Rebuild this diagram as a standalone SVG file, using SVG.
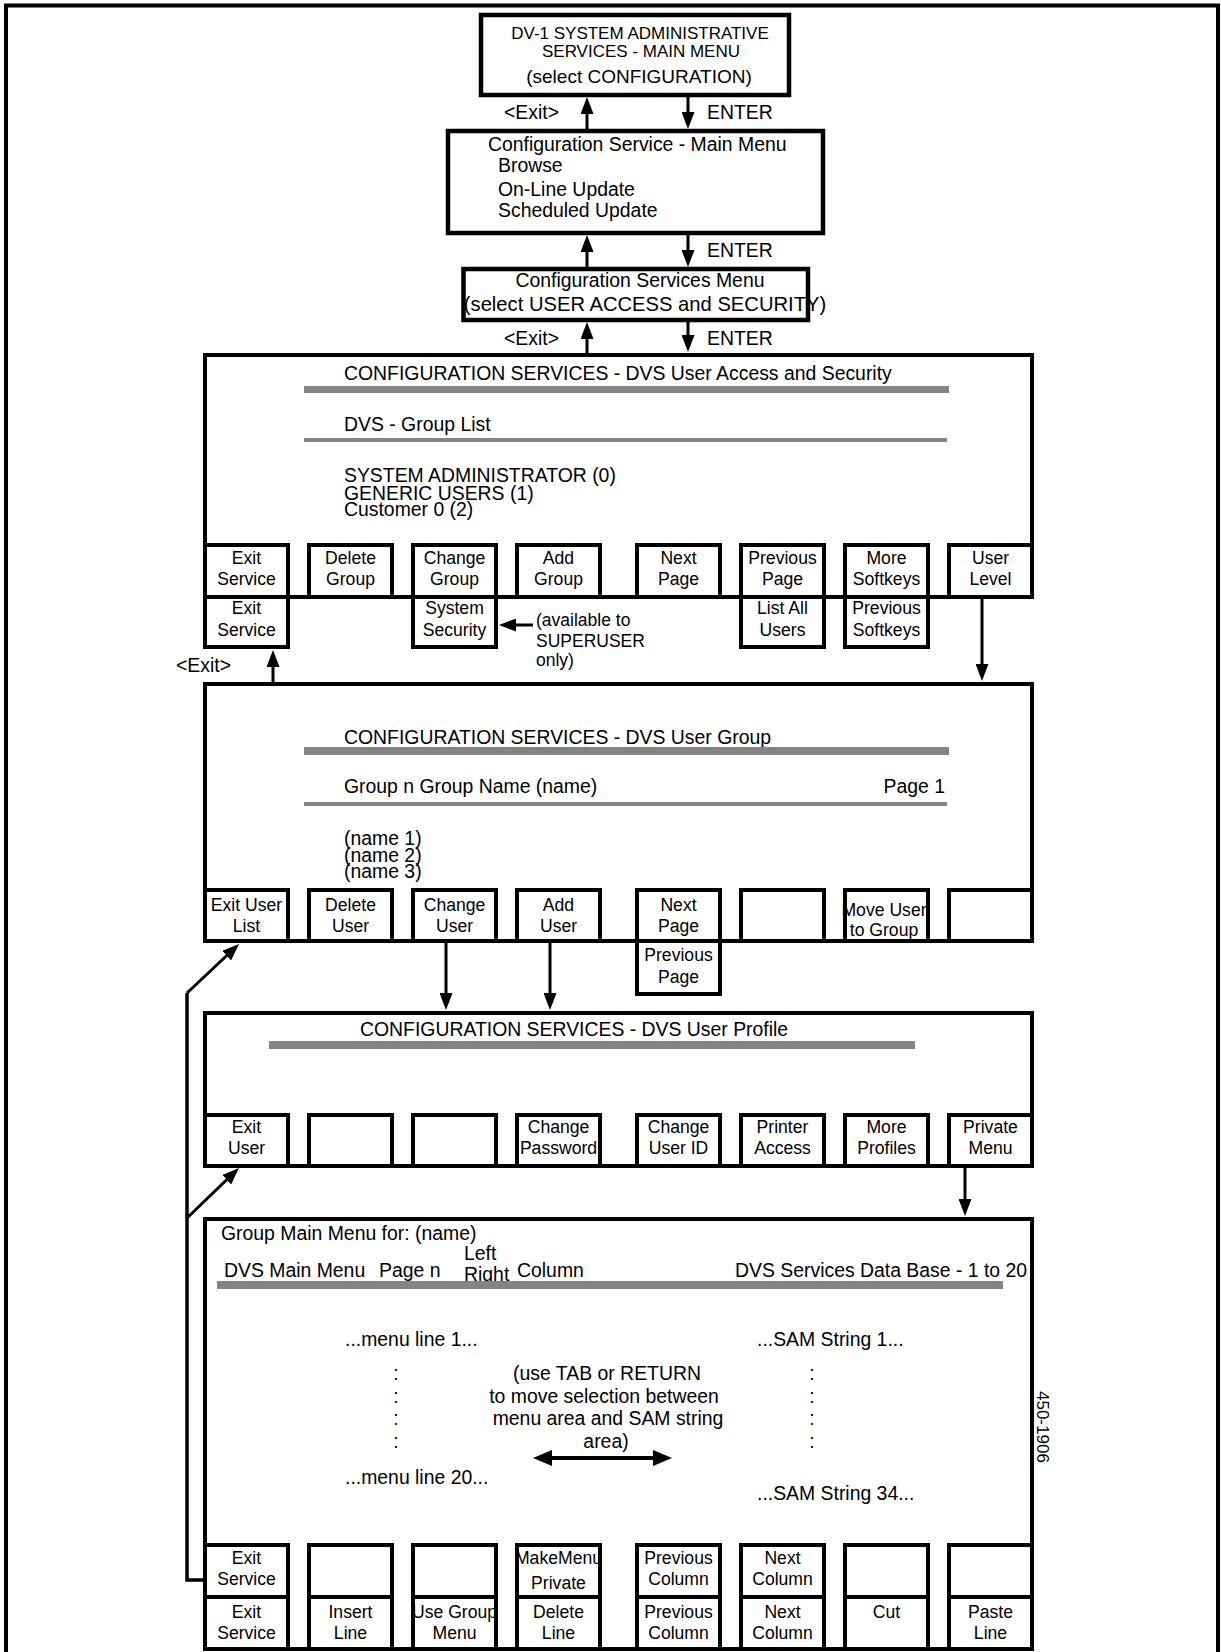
<svg xmlns="http://www.w3.org/2000/svg" width="1221" height="1652" viewBox="0 0 1221 1652">
<defs>
<style>
text{font-family:"Liberation Sans",Arial,Helvetica,sans-serif;font-size:19.4px;fill:#000}
.c{text-anchor:middle}
.e{text-anchor:end}
.k{font-size:17.6px;text-anchor:middle}
.s{font-size:17.5px}
.frame{fill:none;stroke:#000;stroke-width:4}
.box{fill:none;stroke:#000;stroke-width:4.5}
.big{fill:none;stroke:#000;stroke-width:4}
.key{fill:none;stroke:#000;stroke-width:4}
.bar{fill:#848484}
.ln{fill:none;stroke:#000;stroke-width:3}
</style>
<marker id="ah" markerUnits="userSpaceOnUse" markerWidth="17" markerHeight="13" refX="9" refY="6.5" orient="auto"><path d="M0,0 L17,6.5 L0,13 z" fill="#000"/></marker>
<marker id="ah2" markerUnits="userSpaceOnUse" markerWidth="19" markerHeight="16" refX="9" refY="8" orient="auto-start-reverse"><path d="M0,0 L19,8 L0,16 z" fill="#000"/></marker>
</defs>
<rect x="0" y="0" width="1221" height="1652" fill="#fff"/>
<path class="frame" d="M6,1660 V5.5 H1218 V1660"/>

<g id="n-admin-main-menu">
<text class="c" x="640" y="39" style="font-size:17px">DV-1 SYSTEM ADMINISTRATIVE</text>
<text class="c" x="641" y="57" style="font-size:17px">SERVICES - MAIN MENU</text>
<text class="c" x="639" y="83" style="font-size:19px">(select CONFIGURATION)</text>
<rect class="box" x="481" y="15" width="308" height="80"/>
</g>

<g id="n-config-main-menu">
<text x="488" y="151">Configuration Service - Main Menu</text>
<text x="498" y="172">Browse</text>
<text x="498" y="196">On-Line Update</text>
<text x="498" y="217">Scheduled Update</text>
<rect class="box" x="448" y="131" width="375" height="102"/>
</g>

<g id="n-config-services-menu">
<text class="c" x="640" y="287">Configuration Services Menu</text>
<text class="c" x="645" y="311" style="font-size:20.2px">(select USER ACCESS and SECURITY)</text>
<rect class="box" x="463.5" y="269" width="344.5" height="51"/>
</g>

<g id="arrow-labels">
<text x="504" y="119">&lt;Exit&gt;</text>
<text x="707" y="119">ENTER</text>
<text x="707" y="257">ENTER</text>
<text x="504" y="345">&lt;Exit&gt;</text>
<text x="707" y="345">ENTER</text>
<text x="176" y="672">&lt;Exit&gt;</text>
<text class="s" x="536" y="626">(available to</text>
<text class="s" x="536" y="647">SUPERUSER</text>
<text class="s" x="536" y="666">only)</text>
</g>

<g id="n-group-list">
<rect class="big" x="205" y="355" width="827" height="242"/>
<text x="344" y="380">CONFIGURATION SERVICES - DVS User Access and Security</text>
<rect class="bar" x="304" y="386" width="645" height="7"/>
<text x="344" y="431">DVS - Group List</text>
<rect class="bar" x="304" y="438" width="643" height="4"/>
<text x="344" y="482">SYSTEM ADMINISTRATOR (0)</text>
<text x="344" y="500">GENERIC USERS (1)</text>
<text x="344" y="516">Customer 0 (2)</text>
</g>
<g id="k-a1"><text class="k" x="246.5" y="564">Exit</text><text class="k" x="246.5" y="585">Service</text><rect class="key" x="205" y="545" width="83" height="52"/></g>
<g id="k-a2"><text class="k" x="350.5" y="564">Delete</text><text class="k" x="350.5" y="585">Group</text><rect class="key" x="309" y="545" width="83" height="52"/></g>
<g id="k-a3"><text class="k" x="454.5" y="564">Change</text><text class="k" x="454.5" y="585">Group</text><rect class="key" x="413" y="545" width="83" height="52"/></g>
<g id="k-a4"><text class="k" x="558.5" y="564">Add</text><text class="k" x="558.5" y="585">Group</text><rect class="key" x="517" y="545" width="83" height="52"/></g>
<g id="k-a5"><text class="k" x="678.5" y="564">Next</text><text class="k" x="678.5" y="585">Page</text><rect class="key" x="637" y="545" width="83" height="52"/></g>
<g id="k-a6"><text class="k" x="782.5" y="564">Previous</text><text class="k" x="782.5" y="585">Page</text><rect class="key" x="741" y="545" width="83" height="52"/></g>
<g id="k-a7"><text class="k" x="886.5" y="564">More</text><text class="k" x="886.5" y="585">Softkeys</text><rect class="key" x="845" y="545" width="83" height="52"/></g>
<g id="k-a8"><text class="k" x="990.5" y="564">User</text><text class="k" x="990.5" y="585">Level</text><rect class="key" x="949" y="545" width="83" height="52"/></g>
<g id="k-a1b"><text class="k" x="246.5" y="614">Exit</text><text class="k" x="246.5" y="636">Service</text><rect class="key" x="205" y="597" width="83" height="50"/></g>
<g id="k-a3b"><text class="k" x="454.5" y="614">System</text><text class="k" x="454.5" y="636">Security</text><rect class="key" x="413" y="597" width="83" height="50"/></g>
<g id="k-a6b"><text class="k" x="782.5" y="614">List All</text><text class="k" x="782.5" y="636">Users</text><rect class="key" x="741" y="597" width="83" height="50"/></g>
<g id="k-a7b"><text class="k" x="886.5" y="614">Previous</text><text class="k" x="886.5" y="636">Softkeys</text><rect class="key" x="845" y="597" width="83" height="50"/></g>

<g id="n-user-group">
<rect class="big" x="205" y="684" width="827" height="257"/>
<text x="344" y="744">CONFIGURATION SERVICES - DVS User Group</text>
<rect class="bar" x="304" y="747" width="645" height="8"/>
<text x="344" y="793">Group n Group Name (name)</text>
<text class="e" x="945" y="793">Page 1</text>
<rect class="bar" x="304" y="802" width="643" height="4"/>
<text x="344" y="845">(name 1)</text>
<text x="344" y="862">(name 2)</text>
<text x="344" y="878">(name 3)</text>
</g>
<g id="k-b1"><text class="k" x="246.5" y="911">Exit User</text><text class="k" x="246.5" y="932">List</text><rect class="key" x="205" y="890" width="83" height="51"/></g>
<g id="k-b2"><text class="k" x="350.5" y="911">Delete</text><text class="k" x="350.5" y="932">User</text><rect class="key" x="309" y="890" width="83" height="51"/></g>
<g id="k-b3"><text class="k" x="454.5" y="911">Change</text><text class="k" x="454.5" y="932">User</text><rect class="key" x="413" y="890" width="83" height="51"/></g>
<g id="k-b4"><text class="k" x="558.5" y="911">Add</text><text class="k" x="558.5" y="932">User</text><rect class="key" x="517" y="890" width="83" height="51"/></g>
<g id="k-b5"><text class="k" x="678.5" y="911">Next</text><text class="k" x="678.5" y="932">Page</text><rect class="key" x="637" y="890" width="83" height="51"/></g>
<g id="k-b6"><rect class="key" x="741" y="890" width="83" height="51"/></g>
<g id="k-b7"><text class="k" x="884" y="916">Move User</text><text class="k" x="884" y="936">to Group</text><rect class="key" x="845" y="890" width="83" height="51"/></g>
<g id="k-b8"><rect class="key" x="949" y="890" width="83" height="51"/></g>
<g id="k-b5b"><text class="k" x="678.5" y="961">Previous</text><text class="k" x="678.5" y="983">Page</text><rect class="key" x="637" y="941" width="83" height="53"/></g>

<g id="n-user-profile">
<rect class="big" x="205" y="1013" width="827" height="153"/>
<text x="360" y="1036">CONFIGURATION SERVICES - DVS User Profile</text>
<rect class="bar" x="269" y="1041" width="646" height="8"/>
</g>
<g id="k-c1"><text class="k" x="246.5" y="1133">Exit</text><text class="k" x="246.5" y="1154">User</text><rect class="key" x="205" y="1115" width="83" height="51"/></g>
<g id="k-c2"><rect class="key" x="309" y="1115" width="83" height="51"/></g>
<g id="k-c3"><rect class="key" x="413" y="1115" width="83" height="51"/></g>
<g id="k-c4"><text class="k" x="558.5" y="1133">Change</text><text class="k" x="558.5" y="1154">Password</text><rect class="key" x="517" y="1115" width="83" height="51"/></g>
<g id="k-c5"><text class="k" x="678.5" y="1133">Change</text><text class="k" x="678.5" y="1154">User ID</text><rect class="key" x="637" y="1115" width="83" height="51"/></g>
<g id="k-c6"><text class="k" x="782.5" y="1133">Printer</text><text class="k" x="782.5" y="1154">Access</text><rect class="key" x="741" y="1115" width="83" height="51"/></g>
<g id="k-c7"><text class="k" x="886.5" y="1133">More</text><text class="k" x="886.5" y="1154">Profiles</text><rect class="key" x="845" y="1115" width="83" height="51"/></g>
<g id="k-c8"><text class="k" x="990.5" y="1133">Private</text><text class="k" x="990.5" y="1154">Menu</text><rect class="key" x="949" y="1115" width="83" height="51"/></g>

<g id="n-group-main-menu">
<rect class="big" x="205" y="1219" width="827" height="430"/>
<text x="221" y="1240">Group Main Menu for: (name)</text>
<text x="464" y="1260">Left</text>
<text x="224" y="1277">DVS Main Menu</text>
<text x="379" y="1277">Page n</text>
<text x="464" y="1281">Right</text>
<text x="517" y="1277">Column</text>
<text x="735" y="1277">DVS Services Data Base - 1 to 20</text>
<rect class="bar" x="217" y="1281" width="786" height="8"/>
<text x="345" y="1346">...menu line 1...</text>
<text x="757" y="1346">...SAM String 1...</text>
<text class="c" x="396" y="1380">:</text>
<text class="c" x="396" y="1403">:</text>
<text class="c" x="396" y="1425">:</text>
<text class="c" x="396" y="1448">:</text>
<text class="c" x="812" y="1380">:</text>
<text class="c" x="812" y="1403">:</text>
<text class="c" x="812" y="1425">:</text>
<text class="c" x="812" y="1448">:</text>
<text class="c" x="607" y="1380">(use TAB or RETURN</text>
<text class="c" x="604" y="1403">to move selection between</text>
<text class="c" x="608" y="1425">menu area and SAM string</text>
<text class="c" x="606" y="1448">area)</text>
<text x="345" y="1484">...menu line 20...</text>
<text x="757" y="1500">...SAM String 34...</text>
</g>
<g id="k-d1"><text class="k" x="246.5" y="1564">Exit</text><text class="k" x="246.5" y="1585">Service</text><rect class="key" x="205" y="1545" width="83" height="52"/></g>
<g id="k-d2"><rect class="key" x="309" y="1545" width="83" height="52"/></g>
<g id="k-d3"><rect class="key" x="413" y="1545" width="83" height="52"/></g>
<g id="k-d4"><text class="k" x="558.5" y="1564">MakeMenu</text><text class="k" x="558.5" y="1589">Private</text><rect class="key" x="517" y="1545" width="83" height="52"/></g>
<g id="k-d5"><text class="k" x="678.5" y="1564">Previous</text><text class="k" x="678.5" y="1585">Column</text><rect class="key" x="637" y="1545" width="83" height="52"/></g>
<g id="k-d6"><text class="k" x="782.5" y="1564">Next</text><text class="k" x="782.5" y="1585">Column</text><rect class="key" x="741" y="1545" width="83" height="52"/></g>
<g id="k-d7"><rect class="key" x="845" y="1545" width="83" height="52"/></g>
<g id="k-d8"><rect class="key" x="949" y="1545" width="83" height="52"/></g>
<g id="k-d1b"><text class="k" x="246.5" y="1618">Exit</text><text class="k" x="246.5" y="1639">Service</text><rect class="key" x="205" y="1597" width="83" height="52"/></g>
<g id="k-d2b"><text class="k" x="350.5" y="1618">Insert</text><text class="k" x="350.5" y="1639">Line</text><rect class="key" x="309" y="1597" width="83" height="52"/></g>
<g id="k-d3b"><text class="k" x="454.5" y="1618">Use Group</text><text class="k" x="454.5" y="1639">Menu</text><rect class="key" x="413" y="1597" width="83" height="52"/></g>
<g id="k-d4b"><text class="k" x="558.5" y="1618">Delete</text><text class="k" x="558.5" y="1639">Line</text><rect class="key" x="517" y="1597" width="83" height="52"/></g>
<g id="k-d5b"><text class="k" x="678.5" y="1618">Previous</text><text class="k" x="678.5" y="1639">Column</text><rect class="key" x="637" y="1597" width="83" height="52"/></g>
<g id="k-d6b"><text class="k" x="782.5" y="1618">Next</text><text class="k" x="782.5" y="1639">Column</text><rect class="key" x="741" y="1597" width="83" height="52"/></g>
<g id="k-d7b"><text class="k" x="886.5" y="1618">Cut</text><rect class="key" x="845" y="1597" width="83" height="52"/></g>
<g id="k-d8b"><text class="k" x="990.5" y="1618">Paste</text><text class="k" x="990.5" y="1639">Line</text><rect class="key" x="949" y="1597" width="83" height="52"/></g>

<text transform="translate(1037,1391) rotate(90)" style="font-size:17px">450-1906</text>

<g id="connectors" class="ln">
<path d="M587,131 V105" marker-end="url(#ah)"/>
<path d="M688,97 V121" marker-end="url(#ah)"/>
<path d="M587,268 V243" marker-end="url(#ah)"/>
<path d="M688,235 V259" marker-end="url(#ah)"/>
<path d="M587,353 V330" marker-end="url(#ah)"/>
<path d="M688,322 V344" marker-end="url(#ah)"/>
<path d="M273,683 V658" marker-end="url(#ah)"/>
<path d="M982,599 V673" marker-end="url(#ah)"/>
<path d="M446,943 V1002" marker-end="url(#ah)"/>
<path d="M550,943 V1002" marker-end="url(#ah)"/>
<path d="M965,1168 V1208" marker-end="url(#ah)"/>
<path d="M533,625 H507" marker-end="url(#ah)"/>
<path d="M187,993 V1580 H205" stroke-width="3.5"/>
<path d="M187,993 L233.2,949.5" marker-end="url(#ah)"/>
<path d="M187,1218 L233.2,1173.5" marker-end="url(#ah)"/>
<path d="M543,1458 H662" stroke-width="4" marker-start="url(#ah2)" marker-end="url(#ah2)"/>
</g>
</svg>
